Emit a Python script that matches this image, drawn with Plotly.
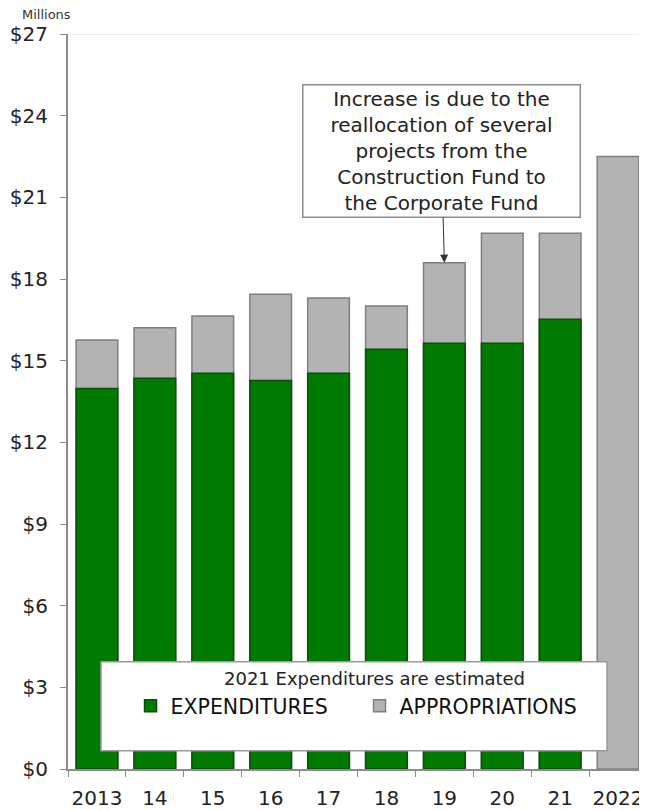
import plotly.graph_objects as go

# values in $ millions
years = ["2013", "14", "15", "16", "17", "18", "19", "20", "21", "2022"]
appropriations = [15.76, 16.21, 16.64, 17.44, 17.30, 17.01, 18.60, 19.68, 19.68, 22.50]
expenditures = [13.98, 14.35, 14.54, 14.27, 14.54, 15.42, 15.64, 15.64, 16.52, None]

font_name = "DejaVu Sans"
green = "#007a00"
gray = "#b3b3b3"

fig = go.Figure()

# appropriations drawn as full bars, expenditures overlaid in front
fig.add_trace(go.Bar(
    x=years,
    y=appropriations,
    name="APPROPRIATIONS",
    marker=dict(color=gray, line=dict(color="#7f7f7f", width=1.5)),
    legendrank=2,
))
fig.add_trace(go.Bar(
    x=years,
    y=expenditures,
    name="EXPENDITURES",
    marker=dict(color=green, line=dict(color="#0b4d0b", width=1.5)),
    legendrank=1,
))

# page body has an 8px margin, so the figure is sized a bit smaller
fig.update_layout(
    width=639,
    height=802,
    margin=dict(l=60, r=0, t=26, b=41, autoexpand=False),
    barmode="overlay",
    bargap=0.28,
    plot_bgcolor="white",
    paper_bgcolor="white",
    font=dict(family=font_name, color="#222222"),
    showlegend=True,
    legend=dict(
        orientation="h",
        x=0.108,
        y=0.0857,
        xanchor="left",
        yanchor="middle",
        bgcolor="rgba(0,0,0,0)",
        font=dict(size=20.5, color="#111111"),
        itemwidth=30,
        entrywidth=184,
        entrywidthmode="pixels",
    ),
)

fig.update_xaxes(
    type="category",
    range=[-0.5, len(years) - 0.5],
    automargin=False,
    showline=True,
    linecolor="#8c8c8c",
    linewidth=2,
    ticks="outside",
    tickson="boundaries",
    ticklen=6,
    tickcolor="#8c8c8c",
    tickangle=0,
    ticklabelstandoff=10,
    tickfont=dict(size=20, color="#222222"),
    showgrid=False,
)
fig.update_yaxes(
    range=[0, 27],
    dtick=3,
    tickprefix="$",
    automargin=False,
    showline=True,
    linecolor="#8c8c8c",
    linewidth=2,
    ticks="outside",
    ticklen=6,
    tickcolor="#8c8c8c",
    ticklabelstandoff=8,
    tickfont=dict(size=20, color="#222222"),
    showgrid=False,
    zeroline=False,
)

# faint top border of plot area
fig.add_shape(type="line", xref="paper", yref="y", x0=0, x1=1, y0=27, y1=27,
              line=dict(color="#dcdcdc", width=1))

# legend box
fig.add_shape(type="rect", xref="paper", yref="y",
              x0=0.057, x1=0.931, y0=0.67, y1=3.94,
              fillcolor="white", line=dict(color="#9a9a9a", width=1.5),
              layer="above")

fig.add_annotation(
    text="2021 Expenditures are estimated",
    xref="paper", yref="y", x=0.53, y=3.34,
    showarrow=False,
    font=dict(size=18, color="#222222"),
)

# callout pointing at the 2019 bar
fig.add_annotation(
    text="Increase is due to the<br>reallocation of several<br>projects from the<br>Construction Fund to<br>the Corporate Fund",
    x=years.index("19"), y=appropriations[years.index("19")],
    ax=-3, ay=-112,
    showarrow=True,
    arrowhead=2,
    arrowsize=1.6,
    arrowwidth=1,
    arrowcolor="#333333",
    standoff=0,
    align="center",
    width=272,
    height=127,
    bgcolor="white",
    bordercolor="#8c8c8c",
    borderwidth=1.5,
    borderpad=2,
    font=dict(size=20, color="#222222"),
)

fig.add_annotation(
    text="Millions",
    xref="paper", yref="paper", x=-0.083, y=1.027,
    xanchor="left", yanchor="middle",
    showarrow=False,
    font=dict(size=13, color="#333333"),
)

# chart title, mostly cut off by the top of the page
fig.add_annotation(
    text="<b>CORPORATE FUND APPROPRIATIONS & EXPENDITURES</b>",
    xref="paper", yref="paper", x=1.0, y=1.034,
    xanchor="right", yanchor="bottom",
    showarrow=False,
    font=dict(size=28, color="#222222"),
)

fig.write_html("out.html")
